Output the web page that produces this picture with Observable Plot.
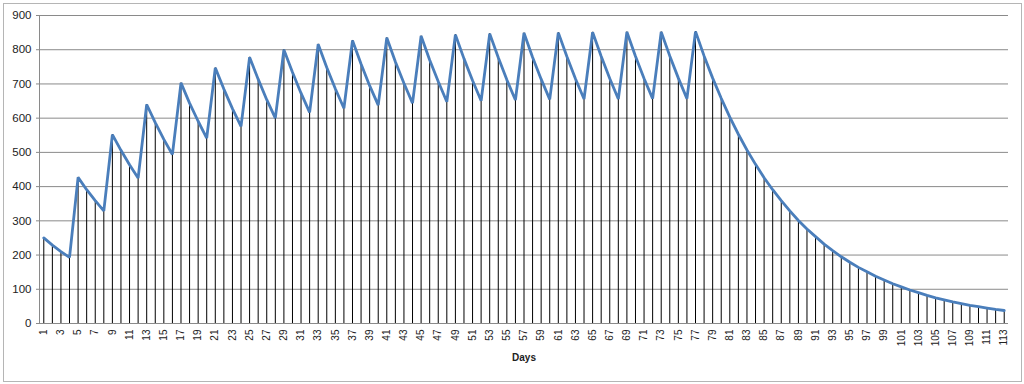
<!DOCTYPE html>
<html>
<head>
<meta charset="utf-8">
<script src="https://cdn.jsdelivr.net/npm/d3@7"></script>
<script src="https://cdn.jsdelivr.net/npm/@observablehq/plot@0.6"></script>
<style>
  html, body { margin: 0; padding: 0; background: #fff; }
  #wrap { position: relative; width: 1024px; height: 384px; }
  #border { position: absolute; left: 3px; top: 3px; width: 1017px; height: 377px; border: 1px solid #b5b5b5; pointer-events: none; }
</style>
</head>
<body>
<div id="wrap"><div id="chart"></div><div id="border"></div></div>
<script>
const days = d3.range(1, 114);
const values = [
  250, 229, 210, 193, 427, 391, 359, 329, 552, 506, 464, 425, 640, 587, 538, 494,
  703, 644, 591, 542, 747, 685, 628, 576, 778, 714, 654, 600, 800, 734, 673, 617,
  816, 748, 686, 629, 827, 758, 695, 638, 835, 765, 702, 644, 840, 770, 707, 648,
  844, 774, 710, 651, 847, 777, 712, 653, 849, 778, 714, 655, 850, 780, 715, 656,
  851, 781, 716, 656, 852, 781, 716, 657, 852, 782, 717, 657, 853, 782, 717, 658,
  603, 553, 507, 465, 426, 391, 359, 329, 301, 276, 254, 232, 213, 195, 179, 164,
  151, 138, 127, 116, 107, 98, 90, 82, 75, 69, 63, 58, 53, 49, 45, 41, 38
];
const yTicks = [0, 100, 200, 300, 400, 500, 600, 700, 800, 900];
const xTicks = days.filter(d => d % 2 === 1);
const xLabel = "Days";

const data = days.map((d, i) => ({day: d, value: values[i]}));

const chart = Plot.plot({
  width: 1024,
  height: 384,
  marginLeft: 39,
  marginRight: 16,
  marginTop: 15,
  marginBottom: 61,
  style: {fontFamily: "'Liberation Sans', Arial, sans-serif", color: "#222", background: "transparent"},
  x: {type: "linear", domain: [0.5, 113.5]},
  y: {domain: [0, 900]},
  marks: [
    Plot.ruleY(yTicks, {stroke: "#8a8a8a", strokeWidth: 1}),
    Plot.ruleX([0.5], {stroke: "#8a8a8a", strokeWidth: 1}),
    Plot.ruleX(data, {x: "day", y1: 0, y2: "value", stroke: "#000", strokeWidth: 1}),
    Plot.lineY(data, {x: "day", y: "value", stroke: "#4a7ebb", strokeWidth: 2.8, strokeLinejoin: "miter"}),
    Plot.axisY({ticks: yTicks, tickSize: 3, tickPadding: 5, fontSize: 11.5, stroke: "#8a8a8a", label: null}),
    Plot.axisX({ticks: xTicks, tickFormat: d => String(d), tickRotate: -90, tickSize: 0, tickPadding: 6, fontSize: 10, label: null}),
    Plot.text([xLabel], {frameAnchor: "bottom", dy: 37, fontWeight: "bold", fontSize: 10, fill: "#222"})
  ]
});
document.getElementById("chart").appendChild(chart);
</script>
</body>
</html>
